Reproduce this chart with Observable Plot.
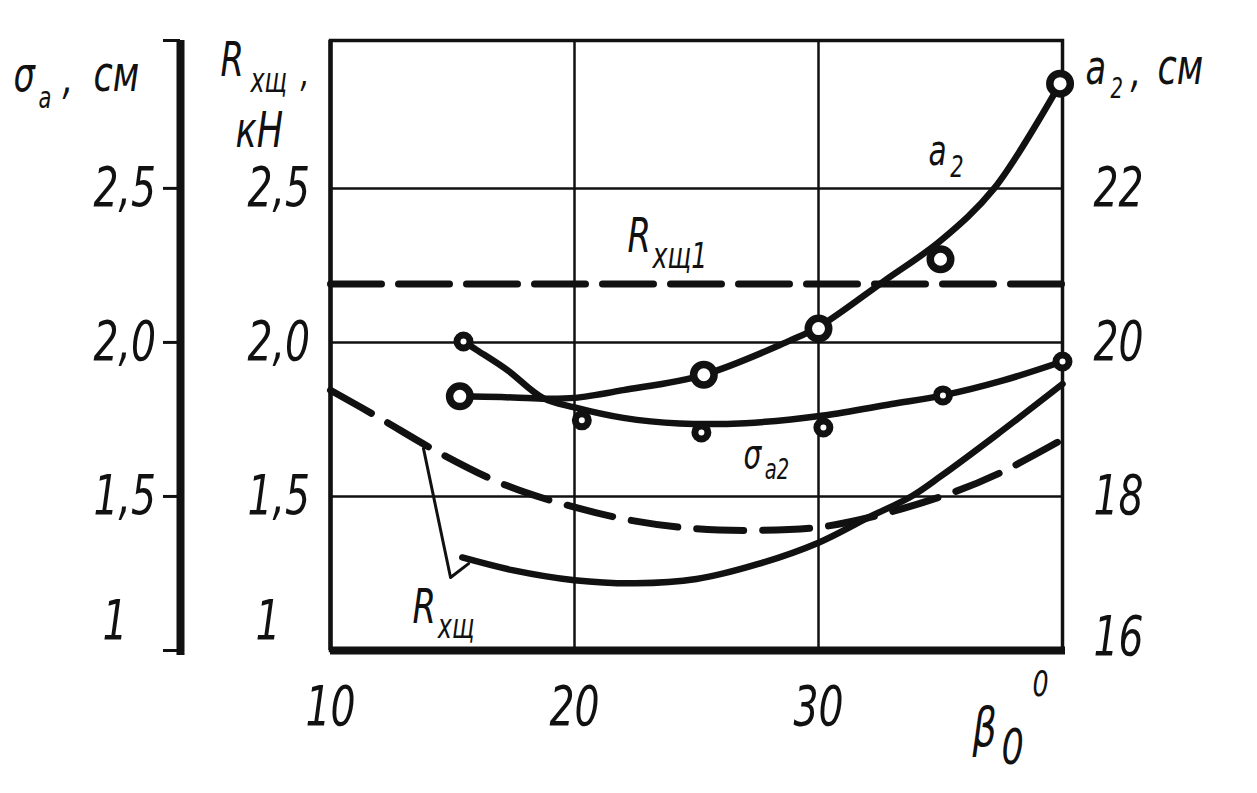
<!DOCTYPE html>
<html><head><meta charset="utf-8">
<script src="https://cdn.jsdelivr.net/npm/d3@7"></script>
<script src="https://cdn.jsdelivr.net/npm/@observablehq/plot@0.6"></script>
<style>
html,body{margin:0;padding:0;background:#fff;}
#chart svg{display:block;}
</style></head><body><div id="chart"></div>
<script>
// ---- axes ----
const xDomain = [10, 40];
const rDomain = [1, 2.98];
const xGridValues = [20, 30];
const rGridValues = [1.5, 2, 2.5];
const xTickValues = [10, 20, 30];
const rTickValues = [1, 1.5, 2, 2.5];
const rTickLabels = ["1", "1,5", "2,0", "2,5"];
const a2TickValues = [16, 18, 20, 22];
const sigmaTickValues = [1, 1.5, 2, 2.5, 2.98];
const sigmaTickLabels = ["1", "1,5", "2,0", "2,5"];

// ---- series ----
const a2CurveBeta = [15.3, 17, 18.7, 20, 22, 25.3, 28.8, 30, 32.7, 35, 37.2, 39.9];
const a2CurveCm   = [19.30, 19.29, 19.27, 19.28, 19.38, 19.58, 20.02, 20.20, 20.80, 21.32, 22.00, 23.36];
const a2PointBeta = [15.3, 25.3, 30, 35, 39.9];
const a2PointCm   = [19.30, 19.58, 20.18, 21.08, 23.36];

const sigmaCurveBeta = [15.45, 16.0, 17.25, 18.7, 20, 22, 24.3, 27, 30.2, 33, 35.1, 37.5, 40];
const sigmaCurveCm   = [2.003, 1.975, 1.91, 1.82, 1.789, 1.755, 1.737, 1.738, 1.763, 1.80, 1.828, 1.875, 1.938];
const sigmaPointBeta = [15.45, 20.3, 25.2, 30.2, 35.1, 40];
const sigmaPointCm   = [2.003, 1.747, 1.708, 1.724, 1.828, 1.938];

const rDashBeta = [10, 12, 14.5, 17.2, 20, 22.5, 25, 27.5, 30, 32.5, 35.4, 37.4, 40];
const rDashKN   = [1.845, 1.755, 1.64, 1.536, 1.465, 1.42, 1.395, 1.39, 1.40, 1.44, 1.51, 1.575, 1.685];

const rSolidBeta = [15.4, 17.5, 20, 22.5, 25, 27.5, 30, 32, 33.8, 35, 37.3, 40];
const rSolidKN   = [1.302, 1.26, 1.228, 1.218, 1.232, 1.28, 1.35, 1.43, 1.50, 1.565, 1.70, 1.865];

const r1Beta = [10, 40];
const r1KN   = [2.19, 2.19];

// ---- helpers ----
const ink = "#111";
const F = '"Liberation Sans Narrow", "DejaVu Sans Condensed", "DejaVu Sans", sans-serif';
const a2ToR = v => 1 + (v - 16) / 4;
const rows = (xs, ys, f = v => v) => xs.map((x, i) => ({x, y: f(ys[i])}));

const a2Curve = rows(a2CurveBeta, a2CurveCm, a2ToR);
const a2Points = rows(a2PointBeta, a2PointCm, a2ToR);
const sigmaCurve = rows(sigmaCurveBeta, sigmaCurveCm);
const sigmaPoints = rows(sigmaPointBeta, sigmaPointCm);
const rDash = rows(rDashBeta, rDashKN);
const rSolid = rows(rSolidBeta, rSolidKN);
const r1 = rows(r1Beta, r1KN);

const T = {fill: ink, fontFamily: F, fontStyle: "italic", textAnchor: "start", lineAnchor: "bottom"};
const note = (s, x, y, size) => Plot.text([{x, y}], {...T, x: "x", y: "y", text: () => s, fontSize: size});
const fixed = (s, anchor, dx, dy, size) => Plot.text([s], {...T, text: d => d, frameAnchor: anchor, dx, dy, fontSize: size});

const rLab = rTickValues.map((v, i) => ({v, label: rTickLabels[i]}));
const sLab = sigmaTickLabels.map((label, i) => ({v: sigmaTickValues[i], label}));
const aLab = a2TickValues.map(v => ({v: a2ToR(v), label: String(v)}));

const chart = Plot.plot({
  width: 1257, height: 793,
  marginLeft: 330, marginRight: 195, marginTop: 40, marginBottom: 143,
  x: {domain: xDomain, axis: null},
  y: {domain: rDomain, axis: null},
  style: {fontFamily: F, background: "#fff", color: ink},
  marks: [
    Plot.ruleX(xGridValues, {stroke: ink, strokeWidth: 2.5}),
    Plot.ruleY(rGridValues, {stroke: ink, strokeWidth: 2.5}),
    Plot.frame({stroke: ink, strokeWidth: 3.5}),
    Plot.ruleX([xDomain[0]], {stroke: ink, strokeWidth: 4.5}),
    Plot.ruleY([rDomain[0]], {stroke: ink, strokeWidth: 8, insetRight: -3}),
    // sigma axis (left, outside)
    Plot.ruleX([xDomain[0]], {stroke: ink, strokeWidth: 8, dx: -150, insetBottom: -5}),
    Plot.axisY({ticks: sigmaTickValues, anchor: "left", dx: -150, tickSize: 17, tickFormat: () => "", stroke: ink, strokeWidth: 3}),
    // curves
    Plot.line(r1, {x: "x", y: "y", stroke: ink, strokeWidth: 7, strokeDasharray: "51,17"}),
    Plot.line(rDash, {x: "x", y: "y", stroke: ink, strokeWidth: 7, strokeDasharray: "47,19", curve: "catmull-rom"}),
    Plot.line(rSolid, {x: "x", y: "y", stroke: ink, strokeWidth: 6.5, curve: "catmull-rom"}),
    Plot.line(sigmaCurve, {x: "x", y: "y", stroke: ink, strokeWidth: 6.5, curve: "catmull-rom"}),
    Plot.line(a2Curve, {x: "x", y: "y", stroke: ink, strokeWidth: 6.5, curve: "catmull-rom"}),
    Plot.dot(sigmaPoints, {x: "x", y: "y", r: 6.5, fill: "#fff", stroke: ink, strokeWidth: 7}),
    Plot.dot(a2Points, {x: "x", y: "y", r: 10.25, fill: "#fff", stroke: ink, strokeWidth: 7.5}),
    // leader for R_хщ label
    Plot.line([{x: 13.81, y: 1.656}, {x: 14.92, y: 1.237}, {x: 15.66, y: 1.282}], {x: "x", y: "y", stroke: ink, strokeWidth: 3}),
    // in-plot labels
    note("R", 22.17, 2.292, 48), note("хщ1", 23.2, 2.24, 36),
    note("a", 34.51, 2.575, 42), note("2", 35.4, 2.536, 30),
    note("σ", 26.93, 1.594, 40), note("a2", 27.8, 1.558, 28),
    note("R", 13.36, 1.088, 48), note("хщ", 14.4, 1.042, 34),
    // tick labels
    Plot.text(xTickValues, {...T, x: d => d, text: d => String(d), frameAnchor: "bottom", dy: 57, lineAnchor: "middle", textAnchor: "middle", fontSize: 56}),
    Plot.text(rLab.filter(d => d.v > 1), {...T, y: "v", text: "label", frameAnchor: "left", dx: -83, lineAnchor: "middle", fontSize: 56}),
    Plot.text(rLab.filter(d => d.v === 1), {...T, y: "v", text: "label", frameAnchor: "left", dx: -75, dy: -29, lineAnchor: "middle", fontSize: 56}),
    Plot.text(sLab.filter(d => d.v > 1), {...T, y: "v", text: "label", frameAnchor: "left", dx: -237, lineAnchor: "middle", fontSize: 56}),
    Plot.text(sLab.filter(d => d.v === 1), {...T, y: "v", text: "label", frameAnchor: "left", dx: -228, dy: -29, lineAnchor: "middle", fontSize: 56}),
    Plot.text(aLab.filter(d => d.label !== "16"), {...T, y: "v", text: "label", frameAnchor: "right", dx: 31, lineAnchor: "middle", fontSize: 56}),
    Plot.text(aLab.filter(d => d.label === "16"), {...T, y: "v", text: "label", frameAnchor: "right", dx: 31, dy: -13, lineAnchor: "middle", fontSize: 56}),
    // axis titles
    fixed("σ", "top-left", -317, 50, 48), fixed("a", "top-left", -292, 67, 30),
    fixed(",", "top-left", -268, 52, 48), fixed("см", "top-left", -237, 50, 50),
    fixed("R", "top-left", -110, 35, 48), fixed("хщ", "top-left", -80, 51, 34),
    fixed(",", "top-left", -30, 45, 40), fixed("кН", "top-left", -95, 106, 50),
    fixed("a", "top-right", 23, 43, 48), fixed("2", "top-right", 48, 57, 28),
    fixed(",", "top-right", 68, 45, 48), fixed("см", "top-right", 95, 43, 50),
    fixed("β", "bottom-right", -90, 95, 54), fixed("0", "bottom-right", -61, 113, 50),
    fixed("0", "bottom-right", -30, 45, 36)
  ]
});
document.getElementById("chart").appendChild(chart);
// narrow the lettering to match the condensed drafting font of the original
d3.select(chart).selectAll("text").each(function () {
  const s = this.textContent;
  if (!s) return;
  const w = this.getComputedTextLength();
  if (w > 0) {
    this.setAttribute("textLength", (w * 0.78).toFixed(1));
    this.setAttribute("lengthAdjust", "spacingAndGlyphs");
  }
});
</script></body></html>
